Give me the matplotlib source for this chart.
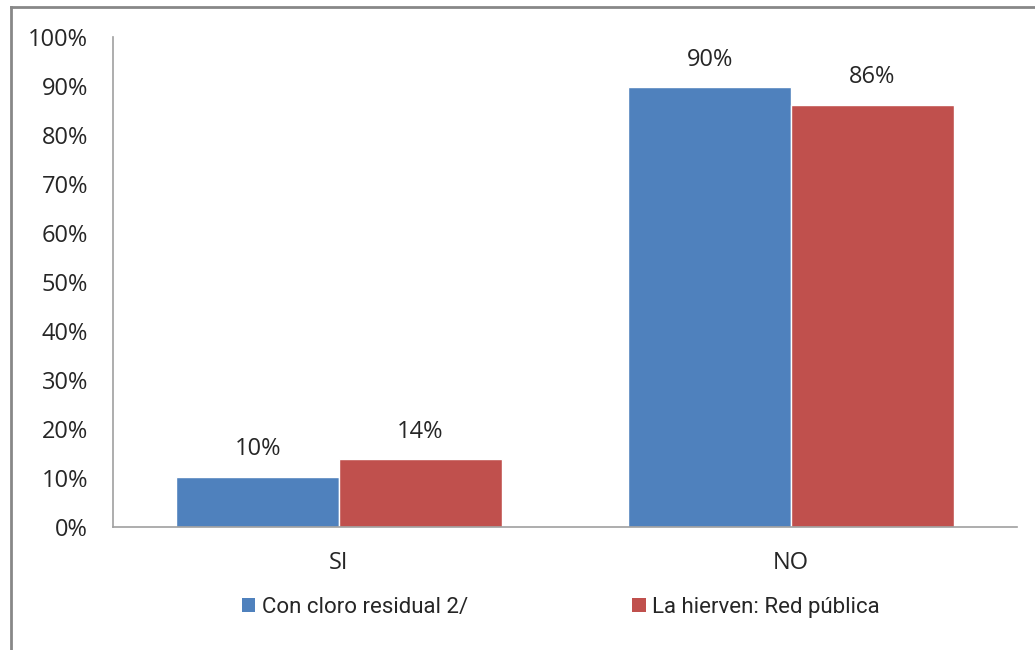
import matplotlib.pyplot as plt
from matplotlib.lines import Line2D
from matplotlib.patches import Patch
import numpy as np

categories = ["SI", "NO"]
series_names = ["Con cloro residual 2/", "La hierven: Red pública"]
cloro = [10.3, 89.7]
hierven = [13.8, 86.2]
labels_cloro = ["10%", "90%"]
labels_hierven = ["14%", "86%"]
yticks = [0, 10, 20, 30, 40, 50, 60, 70, 80, 90, 100]

blue = "#4F81BD"
red = "#C0504D"
font = ["Open Sans", "DejaVu Sans"]
plt.rcParams['font.family'] = font

fig = plt.figure(figsize=(10.35, 6.5), dpi=100)
ax = fig.add_axes([113 / 1035, 123 / 650, 904 / 1035, 490 / 650])

x = np.arange(len(categories))
w = 0.36
b1 = ax.bar(x - w / 2, cloro, w, color=blue, edgecolor="white", linewidth=1)
b2 = ax.bar(x + w / 2, hierven, w, color=red, edgecolor="white", linewidth=1)

for bars, labs in ((b1, labels_cloro), (b2, labels_hierven)):
    for rect, lab in zip(bars, labs):
        ax.annotate(lab, (rect.get_x() + rect.get_width() / 2, rect.get_height()),
                    xytext=(0, 11), textcoords="offset points",
                    ha="center", va="bottom", fontsize=17, color="#262626")

ax.set_xlim(-0.5, 1.5)
ax.set_ylim(0, 100)
ax.set_yticks(yticks)
ax.set_yticklabels([f"{v}%" for v in yticks])
ax.set_xticks(x)
ax.set_xticklabels(categories)
ax.tick_params(axis="both", length=0, labelsize=17, labelcolor="#262626")
ax.tick_params(axis="y", pad=18)
ax.tick_params(axis="x", pad=17)

for s in ("top", "right"):
    ax.spines[s].set_visible(False)
ax.spines["left"].set_color("#A0A0A0")
ax.spines["bottom"].set_color("#A0A0A0")
ax.spines["left"].set_linewidth(1.2)
ax.spines["bottom"].set_linewidth(1.2)

handles = [Patch(facecolor=blue), Patch(facecolor=red)]
leg = fig.legend(handles, series_names, loc="center", bbox_to_anchor=(561 / 1035, 1 - 607 / 650),
                 ncol=2, frameon=False, handlelength=0.6, handleheight=0.6,
                 handletextpad=0.3, columnspacing=7.4,
                 prop={"family": ["Roboto", "DejaVu Sans"], "size": 16})
for t in leg.get_texts():
    t.set_color("#262626")

# outer frame (partially cropped in the source)
fig.add_artist(Line2D([11 / 1035, 11 / 1035], [0, 1 - 7 / 650], transform=fig.transFigure,
                      color="#888888", linewidth=2))
fig.add_artist(Line2D([11 / 1035, 1], [1 - 7 / 650, 1 - 7 / 650], transform=fig.transFigure,
                      color="#888888", linewidth=2))

fig.savefig("out.png", dpi=100)
